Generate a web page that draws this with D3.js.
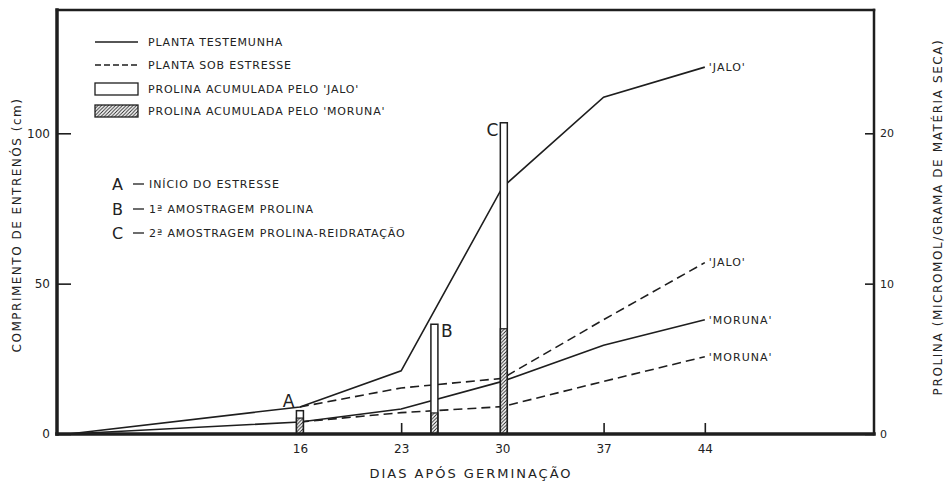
<!DOCTYPE html>
<html>
<head>
<meta charset="utf-8">
<script src="https://cdn.jsdelivr.net/npm/d3@7"></script>
<style>
body { margin: 0; background: #fff; }
text { font-family: "DejaVu Sans", sans-serif; fill: #222; }
</style>
</head>
<body>
<svg class="chart" id="chart"></svg>
<script>
// dias de amostragem
var days = [0, 16, 23, 30, 37, 44];
var stressDays = [16, 23, 30, 37, 44];
// comprimento de entrenos (cm)
var jaloControl = [0, 9, 21, 82, 112, 122];
var morunaControl = [0, 4, 8.3, 17.5, 29.5, 38];
var jaloStress = [9, 15.3, 18.5, 38, 57];
var morunaStress = [4, 7.1, 9.1, 17.5, 25.7];
// prolina (micromol / g materia seca)
var prolineDays = [16, 25.3, 30.1];
var prolineJalo = [1.55, 7.3, 20.7];
var prolineMoruna = [1.06, 1.4, 7.0];
var prolineMarks = ["A", "B", "C"];
// ticks
var xTicks = [16, 23, 30, 37, 44];
var leftTicks = [0, 50, 100];
var rightTicks = [0, 10, 20];

function drawChart() {
    var margin = {top: 10, right: 75, bottom: 48, left: 57};
    var W = 949, H = 482;
    var width = W - margin.left - margin.right,
        height = H - margin.top - margin.bottom;
    var ink = "#1e1e1e";

    var x = d3.scaleLinear().domain([-0.8, 55.7]).range([0, width]);
    var y = d3.scaleLinear().domain([0, 141]).range([height, 0]);
    var yR = d3.scaleLinear().domain([0, 28.2]).range([height, 0]);

    var svg = d3.select("#chart").attr("width", W).attr("height", H);

    var defs = svg.append("defs");
    defs.append("pattern")
        .attr("id", "hatch")
        .attr("patternUnits", "userSpaceOnUse")
        .attr("width", 3.5).attr("height", 3.5)
        .append("path")
        .attr("d", "M-1,1 l2,-2 M0,3.5 l3.5,-3.5 M2.5,4.5 l2,-2")
        .attr("stroke", ink).attr("stroke-width", 0.9);

    var chart = svg.append("g")
        .attr("transform", "translate(" + margin.left + "," + margin.top + ")");

    // axes
    var xAxis = d3.axisBottom(x).tickValues(xTicks).tickSizeInner(-11).tickSizeOuter(0).tickPadding(10);
    var yAxis = d3.axisLeft(y).tickValues(leftTicks).tickSizeInner(-14).tickSizeOuter(0).tickPadding(7);
    var yAxisR = d3.axisRight(yR).tickValues(rightTicks).tickSizeInner(-9).tickSizeOuter(0).tickPadding(6);

    function styleAxis(g, size) {
        g.select(".domain").remove();
        g.selectAll("line").attr("stroke", ink).attr("stroke-width", 1.6);
        g.selectAll("text").style("font-size", size + "px").style("font-family", "DejaVu Sans").attr("fill", ink);
    }

    chart.append("g").attr("transform", "translate(0," + height + ")").call(xAxis).call(styleAxis, 12);
    chart.append("g").call(yAxis).call(styleAxis, 12);
    chart.append("g").attr("transform", "translate(" + width + ",0)").call(yAxisR).call(styleAxis, 11);

    // lines
    var line = d3.line()
        .x(function(d) { return x(d[0]); })
        .y(function(d) { return y(d[1]); });

    var series = [
        {vals: d3.zip(days, jaloControl), dash: null, label: "'JALO'"},
        {vals: d3.zip(days, morunaControl), dash: null, label: "'MORUNA'"},
        {vals: d3.zip(stressDays, jaloStress), dash: "9,5", label: "'JALO'"},
        {vals: d3.zip(stressDays, morunaStress), dash: "9,5", label: "'MORUNA'"}
    ];

    chart.selectAll(".serie")
        .data(series)
        .enter().append("path")
        .attr("class", "serie")
        .attr("d", function(d) { return line(d.vals); })
        .attr("fill", "none")
        .attr("stroke", ink)
        .attr("stroke-width", 1.6)
        .attr("stroke-dasharray", function(d) { return d.dash; });

    chart.selectAll(".endlabel")
        .data(series)
        .enter().append("text")
        .attr("class", "endlabel")
        .attr("x", function(d) { return x(d.vals[d.vals.length - 1][0]) + 4; })
        .attr("y", function(d) { return y(d.vals[d.vals.length - 1][1]); })
        .attr("dy", "0.35em")
        .style("font-size", "11px")
        .style("letter-spacing", "1px")
        .text(function(d) { return d.label; });

    // proline bars
    var bw = 7;
    chart.selectAll(".barJalo")
        .data(prolineDays)
        .enter().append("rect")
        .attr("class", "barJalo")
        .attr("x", function(d) { return x(d) - bw / 2; })
        .attr("y", function(d, i) { return yR(prolineJalo[i]); })
        .attr("width", bw)
        .attr("height", function(d, i) { return height - yR(prolineJalo[i]); })
        .attr("fill", "#fff")
        .attr("stroke", ink)
        .attr("stroke-width", 1.5);

    chart.selectAll(".barMoruna")
        .data(prolineDays)
        .enter().append("rect")
        .attr("class", "barMoruna")
        .attr("x", function(d) { return x(d) - bw / 2; })
        .attr("y", function(d, i) { return yR(prolineMoruna[i]); })
        .attr("width", bw)
        .attr("height", function(d, i) { return height - yR(prolineMoruna[i]); })
        .attr("fill", "url(#hatch)")
        .attr("stroke", ink)
        .attr("stroke-width", 1.2);

    chart.selectAll(".mark")
        .data(prolineDays)
        .enter().append("text")
        .attr("class", "mark")
        .attr("x", function(d, i) { return i == 1 ? x(d) + bw / 2 + 3 : x(d) - bw / 2 - 2; })
        .attr("y", function(d, i) { return yR(prolineJalo[i]) + (i == 0 ? -4 : 13); })
        .attr("text-anchor", function(d, i) { return i == 1 ? "start" : "end"; })
        .style("font-size", "17px")
        .text(function(d, i) { return prolineMarks[i]; });

    // frame
    var frame = [
        [0, 0, width, 0, 2.5],
        [width, 0, width, height, 2.5],
        [0, height, width, height, 3.5],
        [0, 0, 0, height, 3.5]
    ];
    chart.selectAll(".frame")
        .data(frame)
        .enter().append("line")
        .attr("x1", function(d) { return d[0]; })
        .attr("y1", function(d) { return d[1]; })
        .attr("x2", function(d) { return d[2]; })
        .attr("y2", function(d) { return d[3]; })
        .attr("stroke", ink)
        .attr("stroke-width", function(d) { return d[4]; })
        .attr("stroke-linecap", "square");

    // legend
    var legend = svg.append("g").attr("transform", "translate(95,0)");
    var legItems = [
        {y: 42, type: "solid", text: "PLANTA TESTEMUNHA"},
        {y: 65, type: "dash", text: "PLANTA SOB ESTRESSE"},
        {y: 89, type: "open", text: "PROLINA ACUMULADA PELO 'JALO'"},
        {y: 111, type: "hatch", text: "PROLINA ACUMULADA PELO 'MORUNA'"}
    ];
    legItems.forEach(function(d) {
        if (d.type == "solid" || d.type == "dash") {
            legend.append("line")
                .attr("x1", 0).attr("x2", 43).attr("y1", d.y).attr("y2", d.y)
                .attr("stroke", ink).attr("stroke-width", 1.3)
                .attr("stroke-dasharray", d.type == "dash" ? "6,3" : null);
        } else {
            legend.append("rect")
                .attr("x", 0).attr("y", d.y - 6).attr("width", 43).attr("height", 12)
                .attr("fill", d.type == "hatch" ? "url(#hatch)" : "#fff")
                .attr("stroke", ink).attr("stroke-width", 1.3);
        }
        legend.append("text")
            .attr("x", 53).attr("y", d.y).attr("dy", "0.35em")
            .style("font-size", "11px")
            .style("letter-spacing", "0.8px")
            .text(d.text);
    });

    // notes A, B, C
    var notes = [
        {y: 184, text: "INÍCIO DO ESTRESSE"},
        {y: 209, text: "1ª AMOSTRAGEM PROLINA"},
        {y: 233, text: "2ª AMOSTRAGEM PROLINA-REIDRATAÇÃO"}
    ];
    var noteG = svg.append("g");
    notes.forEach(function(d, i) {
        noteG.append("text")
            .attr("x", 112).attr("y", d.y).attr("dy", "0.35em")
            .style("font-size", "16px")
            .text(prolineMarks[i]);
        noteG.append("line")
            .attr("x1", 133).attr("x2", 144).attr("y1", d.y).attr("y2", d.y)
            .attr("stroke", ink).attr("stroke-width", 1.3);
        noteG.append("text")
            .attr("x", 149).attr("y", d.y).attr("dy", "0.35em")
            .style("font-size", "11px")
            .style("letter-spacing", "0.9px")
            .text(d.text);
    });

    // axis titles
    svg.append("text")
        .attr("x", 471).attr("y", 473).attr("dy", "0.35em")
        .attr("text-anchor", "middle")
        .style("font-size", "13px")
        .style("letter-spacing", "2px")
        .text("DIAS APÓS GERMINAÇÃO");

    svg.append("text")
        .attr("transform", "translate(17,225) rotate(-90)")
        .attr("dy", "0.35em")
        .attr("text-anchor", "middle")
        .style("font-size", "12px")
        .style("letter-spacing", "1.5px")
        .text("COMPRIMENTO DE ENTRENÓS (cm)");

    svg.append("text")
        .attr("transform", "translate(938,217) rotate(-90)")
        .attr("dy", "0.35em")
        .attr("text-anchor", "middle")
        .style("font-size", "12px")
        .style("letter-spacing", "1.6px")
        .text("PROLINA (MICROMOL/GRAMA DE MATÉRIA SECA)");
}

drawChart();
</script>
</body>
</html>
